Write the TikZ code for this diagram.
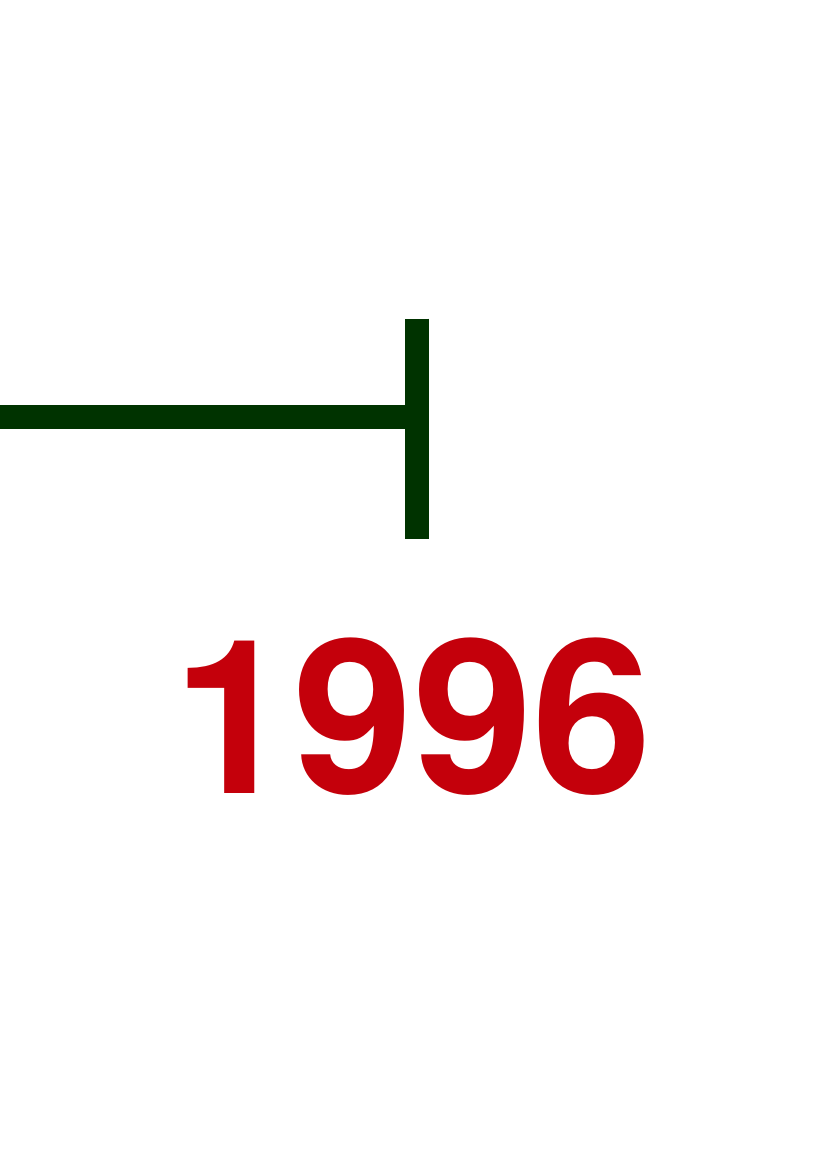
\documentclass[tikz,border=0pt]{standalone}
\usepackage{fontspec}
\setmainfont{TeX Gyre Heros}
\definecolor{bargreen}{RGB}{0,51,0}
\definecolor{yearred}{RGB}{196,0,11}
\tikzset{
  barline/.style={draw=bargreen, line width=23.5pt},
  yearlabel/.style={text=yearred, font=\fontsize{215}{215}\selectfont\bfseries, inner sep=0pt, anchor=base}
}
\begin{document}
\begin{tikzpicture}[x=1pt,y=-1pt]
\useasboundingbox[fill=white] (0,0) rectangle (826,1169);
\coordinate (left) at (0,417);
\coordinate (mid) at (417.3,417);
\coordinate (top) at (417.3,318.7);
\coordinate (bot) at (417.3,539.3);
\draw[barline] (left) -- (mid);
\draw[draw=bargreen, line width=24pt] (top) -- (bot);
\node[yearlabel] (year) at (413,793.5) {1996};
\end{tikzpicture}
\end{document}
